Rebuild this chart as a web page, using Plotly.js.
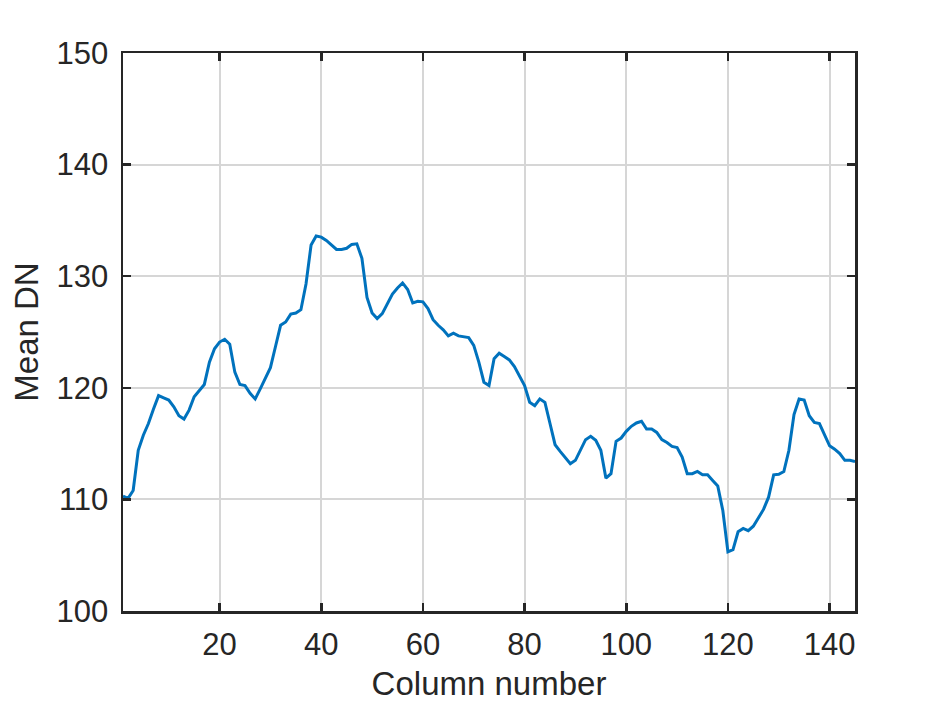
<!DOCTYPE html>
<html>
<head>
<meta charset="utf-8">
<script src="https://cdn.plot.ly/plotly-3.0.1.min.js"></script>
<style>html,body{margin:0;padding:0;background:#fff;}#chart{width:945px;height:708px;}</style>
</head>
<body>
<div id="chart"></div>
<script>
const columnNumber = Array.from({length: 145}, (_, i) => i + 1);
const meanDN = [
  110.3, 110.1, 110.8, 114.4, 115.75, 116.8, 118.1, 119.3, 119.1, 118.9,
  118.3, 117.5, 117.2, 118.0, 119.2, 119.8, 120.3, 122.3, 123.5, 124.1,
  124.35, 123.9, 121.4, 120.3, 120.2, 119.5, 119.0, 119.9, 120.8, 121.8,
  123.7, 125.6, 125.9, 126.6, 126.7, 127.0, 129.3, 132.8, 133.6, 133.5,
  133.2, 132.8, 132.4, 132.4, 132.5, 132.85, 132.9, 131.6, 128.1, 126.7,
  126.2, 126.65, 127.6, 128.4, 128.95, 129.4, 128.8, 127.6, 127.75, 127.7,
  127.1, 126.1, 125.6, 125.2, 124.65, 124.9, 124.65, 124.55, 124.5, 123.8,
  122.3, 120.5, 120.2, 122.6, 123.1, 122.8, 122.5, 121.9, 121.1, 120.2,
  118.7, 118.4, 119.0, 118.7, 116.8, 114.9, 114.3, 113.75, 113.2, 113.5,
  114.5, 115.35, 115.65, 115.3, 114.4, 111.9, 112.3, 115.2, 115.5, 116.1,
  116.55, 116.85, 117.0, 116.3, 116.3, 116.0, 115.35, 115.1, 114.75, 114.65,
  113.8, 112.3, 112.3, 112.5, 112.2, 112.2, 111.7, 111.2, 109.0, 105.3,
  105.5, 107.1, 107.4, 107.2, 107.6, 108.4, 109.1, 110.2, 112.2, 112.25,
  112.5, 114.4, 117.6, 119.0, 118.9, 117.5, 116.9, 116.8, 115.8, 114.8,
  114.5, 114.1, 113.5, 113.5, 113.4
];
const xTicks = [20, 40, 60, 80, 100, 120, 140];
const yTicks = [100, 110, 120, 130, 140, 150];

const axisCommon = {
  showline: true, linecolor: '#262626', linewidth: 2.5, mirror: 'ticks',
  ticks: 'inside', ticklen: 8, tickwidth: 2.5, tickcolor: '#262626',
  showgrid: true, gridcolor: '#d6d6d6', gridwidth: 2,
  zeroline: false,
  tickfont: {family: 'Liberation Sans, Arial, sans-serif', size: 31, color: '#262626'}
};

Plotly.newPlot('chart', [{
  x: columnNumber, y: meanDN, type: 'scatter', mode: 'lines',
  line: {color: '#0072BD', width: 3}, hoverinfo: 'skip'
}], {
  width: 945, height: 708,
  paper_bgcolor: '#ffffff', plot_bgcolor: '#ffffff',
  margin: {l: 123, r: 90, t: 53, b: 97},
  showlegend: false,
  xaxis: Object.assign({}, axisCommon, {
    range: [1, 145], tickvals: xTicks, ticktext: xTicks.map(String),
    ticklabelstandoff: 4,
    title: {text: 'Column number', standoff: 11,
      font: {family: 'Liberation Sans, Arial, sans-serif', size: 33, color: '#262626'}}
  }),
  yaxis: Object.assign({}, axisCommon, {
    range: [100, 150], tickvals: yTicks, ticktext: yTicks.map(String),
    ticklabelstandoff: 6,
    title: {text: 'Mean DN', standoff: 8,
      font: {family: 'Liberation Sans, Arial, sans-serif', size: 33, color: '#262626'}}
  })
}, {staticPlot: true});
</script>
</body>
</html>
